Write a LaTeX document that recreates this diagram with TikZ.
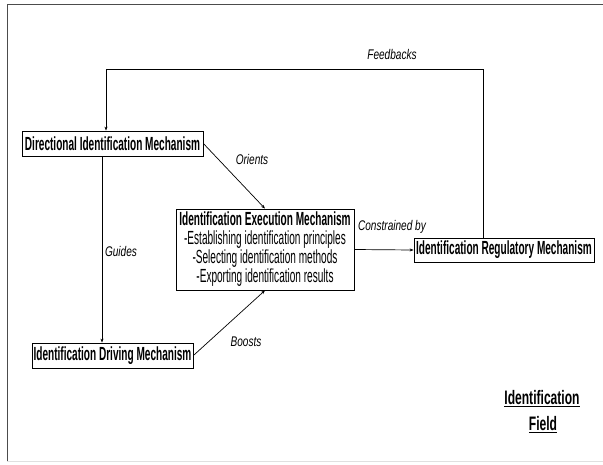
\documentclass[tikz,border=0pt]{standalone}
\usepackage{fontspec}
\setmainfont[FakeStretch=0.53]{Liberation Sans}
\newfontfamily\lblfont[FakeStretch=0.72]{Liberation Sans}
\newfontfamily\fieldfont[FakeStretch=0.62]{Liberation Sans}
\usetikzlibrary{arrows.meta}
\begin{document}
\begin{tikzpicture}[x=1pt,y=-1pt,
  mech/.style={draw, line width=0.8pt, inner sep=1pt, font=\bfseries\fontsize{19}{19}\selectfont},
  lbl/.style={font=\lblfont\itshape\fontsize{14}{16}\selectfont},
  conn/.style={line width=0.7pt, -{Stealth[length=4pt,width=3pt]}}]
\useasboundingbox (0,0) rectangle (603,464);
\fill[white] (0,0) rectangle (603,464);
\draw[line width=1pt, black!70] (603,4) -- (7,4) -- (7,462);
\draw[line width=1pt, black!12] (7,461.5) -- (603,461.5);

\node[mech, minimum width=181pt, minimum height=25pt] (dir) at (112.5,143.5) {Directional Identification Mechanism};
\node[mech, minimum width=178pt, minimum height=81pt, align=center] (exe) at (265,249.5)
  {Identification Execution Mechanism\\
   \mdseries -Establishing identification principles\\
   \mdseries -Selecting identification methods\\
   \mdseries -Exporting identification results};
\node[mech, minimum width=180pt, minimum height=24pt] (reg) at (504,250) {Identification Regulatory Mechanism};
\node[mech, minimum width=161pt, minimum height=25pt] (drv) at (112.5,355.5) {Identification Driving Mechanism};

\coordinate (fb1) at (483,69);
\coordinate (fb2) at (106,69);
\coordinate (gx) at (102,0);
\draw[conn] (reg.north -| fb1) -- (fb1) -- (fb2) -- (dir.north -| fb2);
\draw[conn] (dir.east) -- (exe.north);
\draw[conn] (dir.south -| gx) -- (drv.north -| gx);
\draw[conn] (drv.east) -- (exe.south);
\draw[conn] (exe.east) -- (reg.west);

\node[lbl] (lfb) at (392,54) {Feedbacks};
\node[lbl] (lor) at (252,159) {Orients};
\node[lbl] (lgu) at (121,251) {Guides};
\node[lbl] (lbo) at (246,342) {Boosts};
\node[lbl] (lco) at (392,227) {Constrained by};

\node[font=\fieldfont\bfseries\fontsize{19.5}{22}\selectfont] (f1) at (542,399) {\underline{Identification}};
\node[font=\fieldfont\bfseries\fontsize{19.5}{22}\selectfont] (f2) at (543,425) {\underline{Field}};
\end{tikzpicture}
\end{document}
